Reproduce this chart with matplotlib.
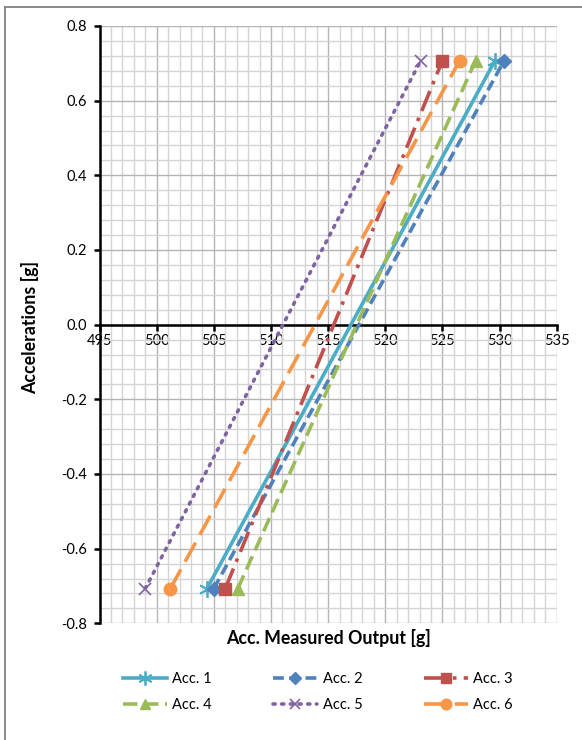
import matplotlib
matplotlib.use("Agg")
import matplotlib.pyplot as plt
from matplotlib.lines import Line2D
from matplotlib.ticker import MultipleLocator, FormatStrFormatter

plt.rcParams['font.family'] = ['Lato', 'DejaVu Sans']

series_names = ["Acc. 1", "Acc. 2", "Acc. 3", "Acc. 4", "Acc. 5", "Acc. 6"]
accel = [-0.707, 0.707]
acc1 = [504.4, 529.6]
acc2 = [505.0, 530.4]
acc3 = [506.0, 525.0]
acc4 = [507.1, 527.9]
acc5 = [499.0, 523.1]
acc6 = [501.2, 526.5]
outputs = [acc1, acc2, acc3, acc4, acc5, acc6]

colors = ["#4BACC6", "#4F81BD", "#C0504D", "#9BBB59", "#8064A2", "#F79646"]
styles = [
    dict(ls='-', marker=(6, 2, 0), ms=12, mew=1.3, mfc='none'),
    dict(ls=(0, (3, 1.5)), marker='D', ms=7, mew=1),
    dict(ls=(0, (6, 2, 1, 2)), marker='s', ms=9, mew=1),
    dict(ls=(0, (4, 1.8)), marker='^', ms=9, mew=1),
    dict(ls=(0, (0.6, 1.8)), marker='x', ms=8, mew=1.2, dash_capstyle='round'),
    dict(ls=(0, (6, 2.5)), marker='o', ms=9, mew=1),
]

fig = plt.figure(figsize=(5.82, 7.40), dpi=100)
W, H = 582, 740
ax = fig.add_axes([99.5 / W, 1 - 623.3 / H, (556.7 - 99.5) / W, (623.3 - 26) / H])

for name, xs, c, st in zip(series_names, outputs, colors, styles):
    st = dict(st)
    ax.plot(xs, accel, color=c, lw=2.6, label=name, mec=c,
            mfc=st.pop('mfc', c), zorder=3, **st)

ax.set_xlim(495, 535)
ax.set_ylim(-0.8, 0.8)
ax.xaxis.set_major_locator(MultipleLocator(5))
ax.xaxis.set_minor_locator(MultipleLocator(1))
ax.yaxis.set_major_locator(MultipleLocator(0.2))
ax.yaxis.set_minor_locator(MultipleLocator(0.04))
ax.yaxis.set_major_formatter(FormatStrFormatter('%.1f'))
ax.xaxis.set_major_formatter(FormatStrFormatter('%d'))

ax.grid(which='minor', color='#D4D4D4', lw=1.0, zorder=0)
ax.grid(which='major', color='#B4B4B4', lw=1.0, zorder=0)
ax.set_axisbelow(True)

for s in ['top', 'right']:
    ax.spines[s].set_visible(False)
ax.spines['bottom'].set_position(('data', 0))
ax.spines['bottom'].set_linewidth(1.8)
ax.spines['left'].set_linewidth(1.8)
ax.spines['bottom'].set_zorder(2)
ax.tick_params(axis='both', which='major', direction='out', length=4, width=1.8,
               labelsize=10.5, color='black')
ax.tick_params(axis='both', which='minor', length=0)
ax.tick_params(axis='x', pad=3)
ax.tick_params(axis='y', pad=5)

fig.text(30 / W, 1 - 327 / H, "Accelerations [g]", rotation=90, fontsize=12.8,
         fontweight='bold', ha='center', va='center')
fig.text(329 / W, 1 - 638 / H, "Acc. Measured Output [g]", fontsize=12.8,
         fontweight='bold', ha='center', va='center')

handles, labels = ax.get_legend_handles_labels()
order = [0, 3, 1, 4, 2, 5]
fig.legend([handles[i] for i in order], [labels[i] for i in order],
           ncol=3, loc='center', bbox_to_anchor=(318 / W, 1 - 692 / H),
           frameon=False, fontsize=10.5, handlelength=3.0, columnspacing=4.2,
           handletextpad=0.4, labelspacing=0.8, markerscale=0.85)

fig.add_artist(Line2D([5 / W, 1], [1 - 7 / H, 1 - 7 / H], color='#808080', lw=1.3))
fig.add_artist(Line2D([5 / W, 5 / W], [0, 1 - 7 / H], color='#808080', lw=1.3))

fig.savefig("out.png", dpi=100)
